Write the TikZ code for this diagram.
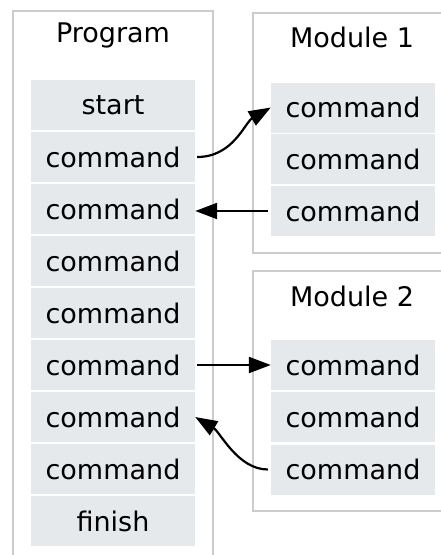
\documentclass[tikz,border=0pt]{standalone}
\usepackage{fontspec}
\setmainfont{DejaVu Sans}
\usetikzlibrary{arrows.meta}
\definecolor{cellfill}{HTML}{E6E9EC}
\definecolor{boxline}{HTML}{CACDD0}
\begin{document}
\begin{tikzpicture}[x=1pt,y=-1pt,
  cell/.style={fill=cellfill,draw=none,minimum width=164pt,minimum height=50pt,inner sep=0pt,font=\fontsize{27}{32}\selectfont},
  title/.style={font=\fontsize{27}{32}\selectfont,inner sep=0pt},
  frame/.style={draw=boxline,line width=2pt},
  conn/.style={line width=2.2pt,-{Triangle[length=22pt,width=16pt]}}]
\useasboundingbox (0,0) rectangle (441,555);
\clip (0,0) rectangle (441,555);
\fill[white] (0,0) rectangle (441,555);
% frames
\draw[frame] (13,11) rectangle (213,600);
\draw[frame] (253,13) rectangle (470,253);
\draw[frame] (253,271) rectangle (470,511);
% titles
\node[title] (tprog) at (113,35) {Program};
\node[title] (tm1) at (352,37) {Module 1};
\node[title] (tm2) at (352,296) {Module 2};
% program cells
\node[cell] (p1) at (113,105) {start};
\node[cell] (p2) at (113,157) {command};
\node[cell] (p3) at (113,209) {command};
\node[cell] (p4) at (113,261) {command};
\node[cell] (p5) at (113,313) {command};
\node[cell] (p6) at (113,365) {command};
\node[cell] (p7) at (113,417) {command};
\node[cell] (p8) at (113,469) {command};
\node[cell] (p9) at (113,521) {finish};
% module 1 cells
\node[cell] (m11) at (353,107.5) {command};
\node[cell] (m12) at (353,159) {command};
\node[cell] (m13) at (353,211) {command};
% module 2 cells
\node[cell] (m21) at (353,365) {command};
\node[cell] (m22) at (353,417) {command};
\node[cell] (m23) at (353,469.5) {command};
% connectors
\draw[conn,shorten <=2pt] (p2.east) .. controls +(38,0) and +(-26,15) .. (m11.west);
\draw[conn,shorten <=3pt] (m13.west) -- (m13.west -| p3.east);
\draw[conn,shorten <=2pt] (p6.east) -- (m21.west);
\draw[conn,shorten <=3pt] (m23.west) .. controls +(-33,0) and +(25,15) .. (p7.east);
\end{tikzpicture}
\end{document}
